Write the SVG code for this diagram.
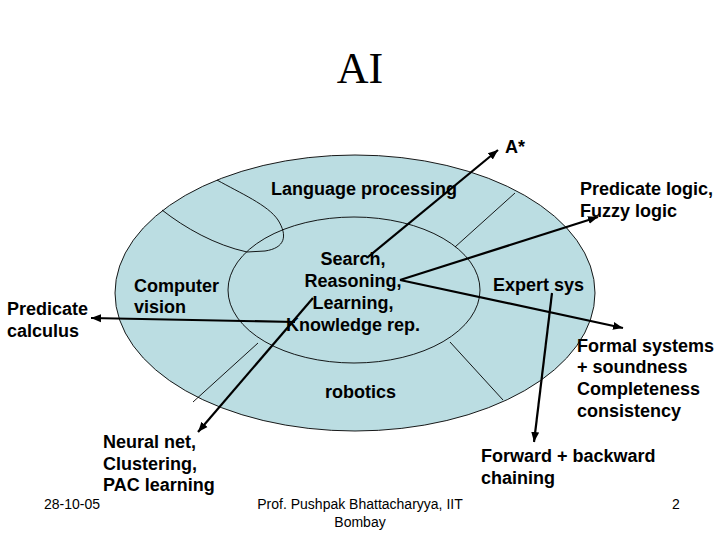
<svg xmlns="http://www.w3.org/2000/svg" width="720" height="540" viewBox="0 0 720 540">
<defs>
<marker id="ah" markerUnits="userSpaceOnUse" markerWidth="12" markerHeight="10" refX="10" refY="5" orient="auto">
<path d="M0,1 L10,5 L0,9 Z" fill="#000"/>
</marker>
<style>
.lbl{font-family:"Liberation Sans",Arial,sans-serif;font-weight:bold;font-size:18px;fill:#000}
.ftr{font-family:"Liberation Sans",Arial,sans-serif;font-size:14px;fill:#000}
.div{fill:none;stroke:#000;stroke-width:0.9}
.arr{fill:none;stroke:#000;stroke-width:2.2;marker-end:url(#ah)}
</style>
</defs>
<rect width="720" height="540" fill="#fff"/>
<text x="360" y="83" text-anchor="middle" font-family="'Liberation Serif','Times New Roman',serif" font-size="44">AI</text>
<g id="outer">
<ellipse cx="355" cy="293" rx="240" ry="138" fill="#bbdde2" stroke="#000" stroke-width="0.9"/>
</g>
<g id="inner">
<ellipse cx="354" cy="290" rx="126" ry="73" fill="#bbdde2" stroke="#000" stroke-width="0.9"/>
</g>
<g id="dividers">
<path class="div" d="M217,180 C240,193 268,205 278,220 C288,236 285,248 265,251 L247,252"/>
<path class="div" d="M162,210 C185,228 215,245 247,252"/>
<path class="div" d="M515,193 L455,247"/>
<path class="div" d="M258,343 L193,402"/>
<path class="div" d="M450,342 L503,400"/>
</g>
<g id="n-language"><text class="lbl" x="271" y="195">Language processing</text></g>
<g id="n-center"><text class="lbl" text-anchor="middle" x="353" y="265">Search,</text><text class="lbl" text-anchor="middle" x="353" y="287">Reasoning,</text><text class="lbl" text-anchor="middle" x="353" y="309">Learning,</text><text class="lbl" text-anchor="middle" x="353" y="331">Knowledge rep.</text></g>
<g id="n-vision"><text class="lbl" x="134" y="292">Computer</text><text class="lbl" x="134" y="313">vision</text></g>
<g id="n-expert"><text class="lbl" x="493" y="291">Expert sys</text></g>
<g id="n-robotics"><text class="lbl" x="325" y="398">robotics</text></g>
<g id="n-astar"><text class="lbl" x="505" y="153">A*</text></g>
<g id="n-predlogic"><text class="lbl" x="580" y="195">Predicate logic,</text><text class="lbl" x="580" y="217">Fuzzy logic</text></g>
<g id="n-predcalc"><text class="lbl" x="7" y="315">Predicate</text><text class="lbl" x="7" y="337">calculus</text></g>
<g id="n-formal"><text class="lbl" x="577" y="352">Formal systems</text><text class="lbl" x="577" y="373">+ soundness</text><text class="lbl" x="577" y="395">Completeness</text><text class="lbl" x="577" y="417">consistency</text></g>
<g id="n-chaining"><text class="lbl" x="481" y="462">Forward + backward</text><text class="lbl" x="481" y="484">chaining</text></g>
<g id="n-neural"><text class="lbl" x="103" y="448">Neural net,</text><text class="lbl" x="103" y="470">Clustering,</text><text class="lbl" x="103" y="491">PAC learning</text></g>
<g id="connectors">
<line class="arr" x1="368" y1="257" x2="498" y2="150"/>
<line class="arr" x1="400" y1="280" x2="598" y2="217"/>
<line class="arr" x1="400" y1="280" x2="623" y2="328"/>
<line class="arr" x1="552" y1="293" x2="534" y2="442"/>
<line class="arr" x1="295" y1="322" x2="91" y2="318"/>
<line class="arr" x1="313" y1="298" x2="198" y2="432"/>
</g>
<g id="footer">
<text class="ftr" x="44" y="509">28-10-05</text>
<text class="ftr" x="360" y="509" text-anchor="middle">Prof. Pushpak Bhattacharyya, IIT</text>
<text class="ftr" x="360" y="527" text-anchor="middle">Bombay</text>
<text class="ftr" x="672" y="509">2</text>
</g>
</svg>
